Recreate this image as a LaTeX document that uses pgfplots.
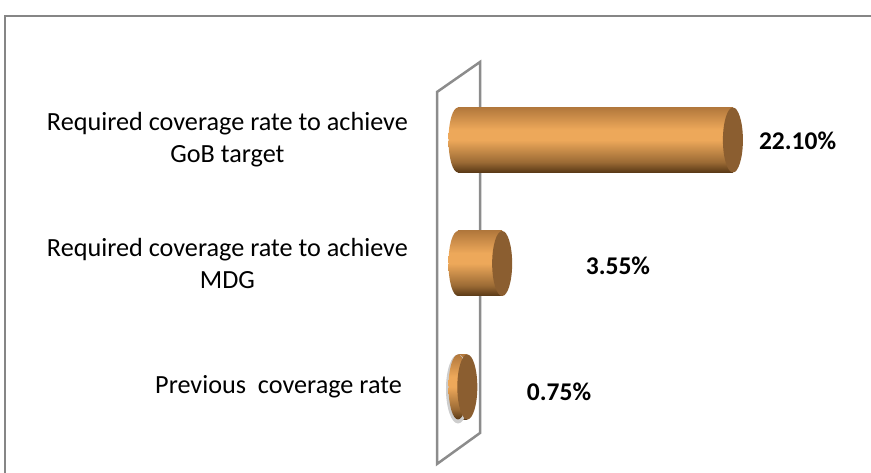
\documentclass[border=0pt]{standalone}
\usepackage{pgfplots}
\pgfplotsset{compat=1.18}
\usepackage{fontspec}
\setmainfont{Carlito}
\definecolor{barmid}{RGB}{237,168,90}
\definecolor{bartop}{RGB}{178,120,60}
\definecolor{barbot}{RGB}{88,56,22}
\definecolor{capc}{RGB}{139,94,48}
\definecolor{wallc}{RGB}{140,140,140}
\definecolor{framec}{RGB}{134,134,134}
\definecolor{shadowc}{RGB}{205,205,205}
\pgfdeclareverticalshading{barshade}{100bp}{color(0bp)=(barbot); color(25bp)=(barbot); color(33bp)=(barbot!55!barmid); color(50bp)=(barmid); color(58bp)=(barmid); color(75bp)=(bartop); color(100bp)=(bartop)}
\pgfdeclareplotmark{cylend}{%
  \pgfpathellipse{\pgfpointorigin}{\pgfpoint{9.5pt}{0pt}}{\pgfpoint{0pt}{32.5pt}}%
  \pgfshadepath{barshade}{0}\pgfusepath{}}
\pgfdeclareplotmark{cylcap}{%
  \pgfpathellipse{\pgfpointorigin}{\pgfpoint{10pt}{0pt}}{\pgfpoint{0pt}{32.5pt}}%
  \pgfsetfillcolor{capc}\pgfusepath{fill}}
\pgfdeclareplotmark{cylshadow}{%
  \pgfpathellipse{\pgfpoint{0pt}{-2pt}}{\pgfpoint{12pt}{0pt}}{\pgfpoint{0pt}{34.5pt}}%
  \pgfsetfillcolor{shadowc}\pgfusepath{fill}}
\newcommand\lblfont{\fontsize{26.2}{32}\selectfont}
\newcommand\valfont{\fontsize{25.5}{32}\selectfont\bfseries}
\pgfplotsset{cylbar/.style={xbar, bar width=65pt, bar shift=0pt, draw=none, shading=barshade, shade}}
\begin{document}
\begin{tikzpicture}[x=1pt,y=1pt]
\path[use as bounding box] (0,0) rectangle (871,473);
\draw[line width=1.5pt, framec] (5,0) -- (5,457) -- (871.5,457);
\draw[wallc, line width=2.5pt, line join=miter] (437,9) -- (437,381) -- (480,411) -- (480,40) -- cycle;
\begin{axis}[at={(458pt,24.25pt)}, anchor=south west, scale only axis,
  width=373.2pt, height=370.5pt,
  xmin=0, xmax=30, ymin=-0.5, ymax=2.5,
  axis line style={draw=none}, xtick=\empty,
  ytick={0,1,2},
  yticklabels={{Previous\ \ coverage rate\hspace*{6pt}},{Required coverage rate to achieve\\MDG},{Required coverage rate to achieve\\GoB target}},
  major tick length=0pt,
  yticklabel style={align=center, inner sep=0pt, xshift=-50pt, font=\lblfont, text=black},
  clip=false]
\addplot[draw=none, mark=cylshadow] coordinates {(0,0)};
\addplot[draw=none, mark=cylend] coordinates {(0,0) (0,1) (0,2)};
\addplot[cylbar] coordinates {(0.75,0)};
\addplot[cylbar] coordinates {(3.55,1)};
\addplot[cylbar] coordinates {(22.10,2)};
\addplot[draw=none, mark=cylcap] coordinates {(0.75,0) (3.55,1) (22.10,2)};
\addplot[draw=none, mark=none, nodes near coords, point meta=explicit symbolic,
  nodes near coords align={center},
  every node near coord/.style={anchor=center, font=\valfont, text=black}]
  coordinates {(8.12,-0.04) [0.75\%] (12.86,0.98) [3.55\%] (27.3,1.99) [22.10\%]};
\end{axis}
\end{tikzpicture}
\end{document}
